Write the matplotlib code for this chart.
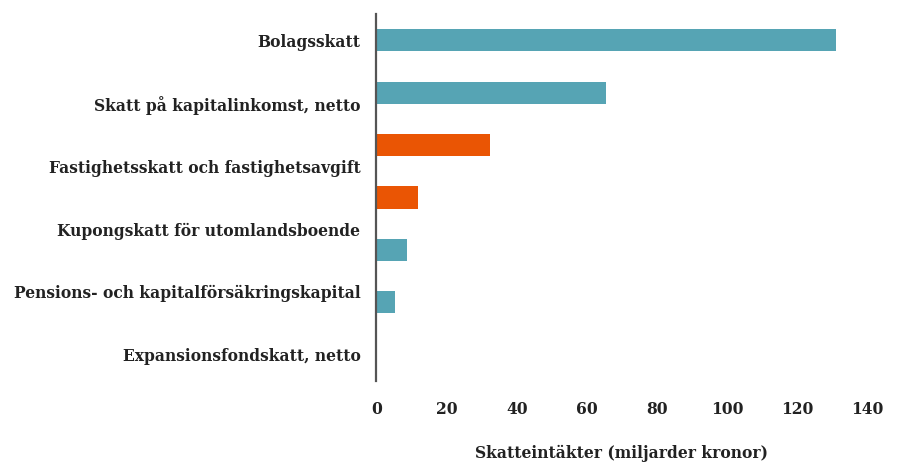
import matplotlib
matplotlib.use("Agg")
import matplotlib.pyplot as plt
import numpy as np

categories = [
    "Bolagsskatt",
    "Skatt på kapitalinkomst, netto",
    "Fastighetsskatt och fastighetsavgift",
    "Kupongskatt för utomlandsboende",
    "Pensions- och kapitalförsäkringskapital",
    "Expansionsfondskatt, netto",
]
values = [131, 65.4, 32.5, 11.9, 8.6, 5.3, 0]
bar_colors = ["#56A4B4", "#56A4B4", "#EA5504", "#EA5504", "#56A4B4", "#56A4B4", "#56A4B4"]
xticks = [0, 20, 40, 60, 80, 100, 120, 140]
xlabel = "Skatteintäkter (miljarder kronor)"

plt.rcParams['font.family'] = ['DejaVu Serif']
fig = plt.figure(figsize=(8.97, 4.62), dpi=100)
ax = fig.add_axes([0.4197, 0.1753, 0.967 - 0.4197, 0.9697 - 0.1753])

pos = np.arange(len(values))
ax.barh(pos, values, height=0.42, color=bar_colors, zorder=2)
ax.set_ylim(len(values) - 0.5, -0.5)
ax.set_xlim(0, 140)

fs = 11.2
ax.set_yticks(np.linspace(0, len(values) - 1, len(categories)))
ax.set_yticklabels(categories, fontsize=fs, fontweight='bold', color='#222222')
ax.set_xticks(xticks)
ax.set_xticklabels([str(t) for t in xticks], fontsize=fs, fontweight='bold', color='#222222')
ax.tick_params(axis='both', length=0)
ax.tick_params(axis='y', pad=11.5)
ax.tick_params(axis='x', pad=14.5)
ax.set_xlabel(xlabel, fontsize=fs, fontweight='bold', color='#222222', labelpad=19)

for s in ['top', 'right', 'bottom']:
    ax.spines[s].set_visible(False)
ax.spines['left'].set_color('#555555')
ax.spines['left'].set_linewidth(1.6)
ax.spines['left'].set_zorder(3)

fig.savefig("out.png", dpi=100)
